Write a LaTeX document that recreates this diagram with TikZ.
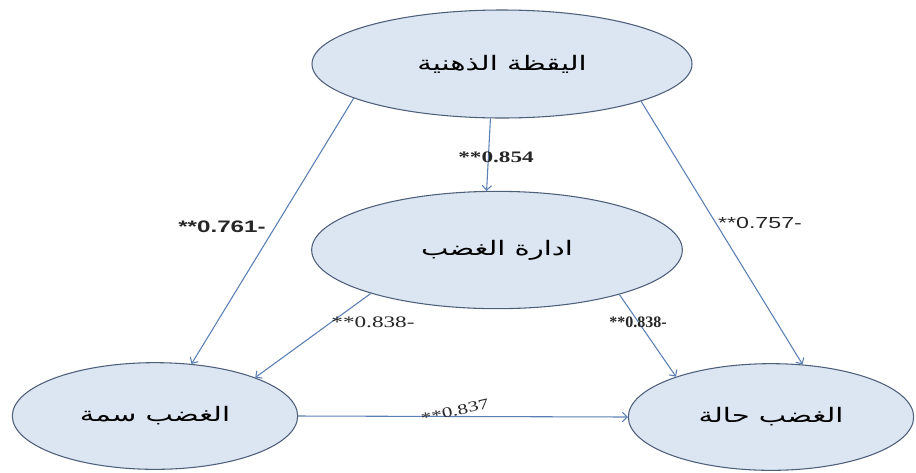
\documentclass[tikz,border=0pt]{standalone}
\usepackage{fontspec}
\setmainfont{Liberation Serif}[FakeStretch=1.45]
\setsansfont{Liberation Sans}[FakeStretch=1.45]
\newfontfamily\plainserif{Liberation Serif}
\newfontfamily\arabicfont[Script=Arabic, FakeStretch=1.45]{DejaVu Sans}
\TeXXeTstate=1
\usetikzlibrary{shapes.geometric,arrows.meta}
\definecolor{varfill}{HTML}{DCE6F2}
\definecolor{varline}{HTML}{4E5F7A}
\definecolor{arrline}{HTML}{5A7FB5}
\begin{document}
\begin{tikzpicture}[x=0.75pt, y=-0.75pt, var/.style={ellipse, draw=varline, fill=varfill, line width=0.8pt, inner sep=0pt, font=\arabicfont\fontsize{15}{17}\selectfont}, arr/.style={draw=arrline, line width=0.8pt, -{Straight Barb[length=3.5pt, width=7pt]}}, lbl/.style={inner sep=0pt, text=black!85}]
	\useasboundingbox (0,0) rectangle (916,472);
	% variables
	\node[var, minimum width=285pt, minimum height=81pt] (mind) at (502,64) {\beginR اليقظة الذهنية\endR};
	\node[var, minimum width=278pt, minimum height=88pt] (anger) at (497,250) {\beginR ادارة الغضب\endR};
	\node[var, minimum width=214pt, minimum height=80pt] (trait) at (155,416) {\beginR الغضب سمة\endR};
	\node[var, minimum width=214pt, minimum height=80pt] (state) at (771,417) {\beginR الغضب حالة\endR};
	% paths
	\draw[arr] (mind.258) -- (anger.100);
	\draw[arr] (mind.193) -- (trait.55);
	\draw[arr] (mind.345) -- (state.59);
	\draw[arr] (anger.199) -- (trait.21);
	\draw[arr] (anger.340) -- (state.157);
	\draw[arr] (trait.east) -- (state.west);
	% coefficients
	\node[lbl, font=\bfseries\fontsize{12}{13}\selectfont] (c854) at (496,157) {**0.854};
	\node[lbl, font=\sffamily\bfseries\fontsize{12.5}{13}\selectfont] (c761) at (222,227) {**0.761-};
	\node[lbl, font=\sffamily\fontsize{12}{13}\selectfont] (c757) at (760,223) {**0.757-};
	\node[lbl, font=\fontsize{12}{13}\selectfont] (c838a) at (373,322) {**0.838-};
	\node[lbl, font=\plainserif\bfseries\fontsize{12}{13}\selectfont] (c838b) at (638,322) {**0.838-};
	\node[lbl, font=\fontsize{11}{12}\selectfont, rotate=13] (c837) at (455,411) {**0.837};
\end{tikzpicture}
\end{document}
